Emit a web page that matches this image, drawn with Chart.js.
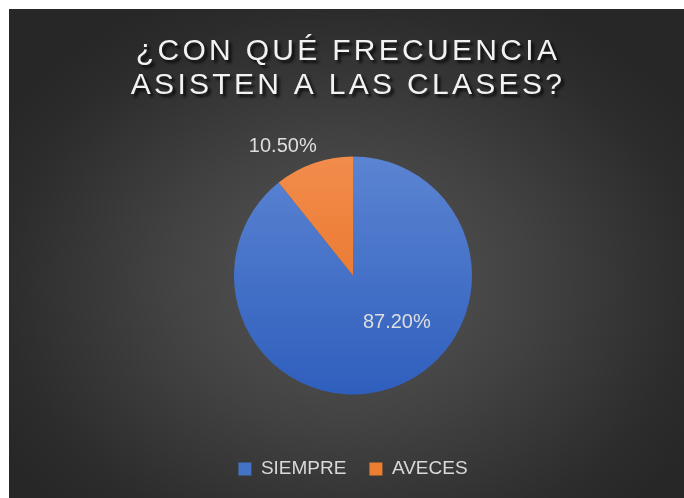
<!DOCTYPE html>
<html>
<head>
<meta charset="utf-8">
<script src="https://cdn.jsdelivr.net/npm/chart.js@4/dist/chart.umd.min.js"></script>
<style>
  html, body { margin: 0; padding: 0; background: #ffffff; width: 684px; height: 498px; overflow: hidden; }
  #wrap {
    position: absolute; left: 9px; top: 9px; width: 675px; height: 489px;
    background: radial-gradient(ellipse 60% 65% at 50% 56%, #575757 0%, #424242 45%, #2c2c2c 85%, #272727 100%);
  }
  canvas { display: block; }
</style>
</head>
<body>
<div id="wrap"><canvas id="c" width="675" height="489"></canvas></div>
<script>
const titleLines = ['¿CON QUÉ FRECUENCIA', 'ASISTEN A LAS CLASES?'];
const categories = ['SIEMPRE', 'AVECES'];
const values = [87.2, 10.5];
const sliceTop = ['#5b84d2', '#f28c4c'];
const sliceBottom = ['#2f5fbd', '#e46c1b'];
const legendSwatch = ['#4472c4', '#ed7d31'];

const PIE_R = 119;

function sliceFill(ctx) {
  const chart = ctx.chart;
  const area = chart.chartArea;
  if (!area) return legendSwatch[ctx.dataIndex];
  const cy = (area.top + area.bottom) / 2;
  const g = chart.ctx.createLinearGradient(0, cy - PIE_R, 0, cy + PIE_R);
  g.addColorStop(0, sliceTop[ctx.dataIndex]);
  g.addColorStop(1, sliceBottom[ctx.dataIndex]);
  return g;
}

const titlePlugin = {
  id: 'excelTitle',
  afterDraw(chart) {
    const c = chart.ctx;
    c.save();
    c.font = '30px "Liberation Sans", Arial, sans-serif';
    c.letterSpacing = '3.3px';
    c.textAlign = 'center';
    c.textBaseline = 'middle';
    c.fillStyle = '#f2f2f2';
    c.shadowColor = 'rgba(0,0,0,0.8)';
    c.shadowOffsetX = 3;
    c.shadowOffsetY = 3;
    c.shadowBlur = 3;
    const cx = 339;
    c.fillText(titleLines[0], cx, 43);
    c.fillText(titleLines[1], cx, 77);
    c.restore();
  }
};

const labelPlugin = {
  id: 'sliceLabels',
  afterDatasetsDraw(chart, args, opts) {
    const c = chart.ctx;
    const meta = chart.getDatasetMeta(0);
    c.save();
    c.font = '20px "Liberation Sans", Arial, sans-serif';
    c.fillStyle = '#dedede';
    c.textAlign = 'center';
    c.textBaseline = 'middle';
    meta.data.forEach((arc, i) => {
      const p = arc.getProps(['x', 'y', 'startAngle', 'endAngle', 'outerRadius'], true);
      const place = opts.place[i];
      const a = (p.startAngle + p.endAngle) / 2 + place.shift * Math.PI / 180;
      const r = p.outerRadius * place.dist;
      const v = chart.data.datasets[0].data[i];
      c.fillText(v.toFixed(2) + '%', p.x + Math.cos(a) * r, p.y + Math.sin(a) * r);
    });
    c.restore();
  }
};

new Chart(document.getElementById('c'), {
  type: 'pie',
  data: {
    labels: categories,
    datasets: [{
      data: values,
      backgroundColor: sliceFill,
      borderWidth: 0
    }]
  },
  options: {
    responsive: false,
    animation: false,
    radius: PIE_R,
    layout: { padding: { top: 105.5, bottom: 9.5, left: 13, right: 0 } },
    plugins: {
      title: { display: false },
      tooltip: { enabled: false },
      legend: {
        position: 'bottom',
        labels: {
          boxWidth: 13,
          boxHeight: 13,
          padding: 23,
          color: '#d9d9d9',
          font: { family: '"Liberation Sans", Arial, sans-serif', size: 19 },
          generateLabels(chart) {
            return chart.data.labels.map((t, i) => ({
              text: t, fillStyle: legendSwatch[i], strokeStyle: legendSwatch[i],
              lineWidth: 0, index: i, fontColor: '#d9d9d9'
            }));
          }
        }
      },
      sliceLabels: {
        place: [ { shift: -23.7, dist: 0.54 }, { shift: -9.2, dist: 1.235 } ]
      }
    }
  },
  plugins: [titlePlugin, labelPlugin]
});
</script>
</body>
</html>
